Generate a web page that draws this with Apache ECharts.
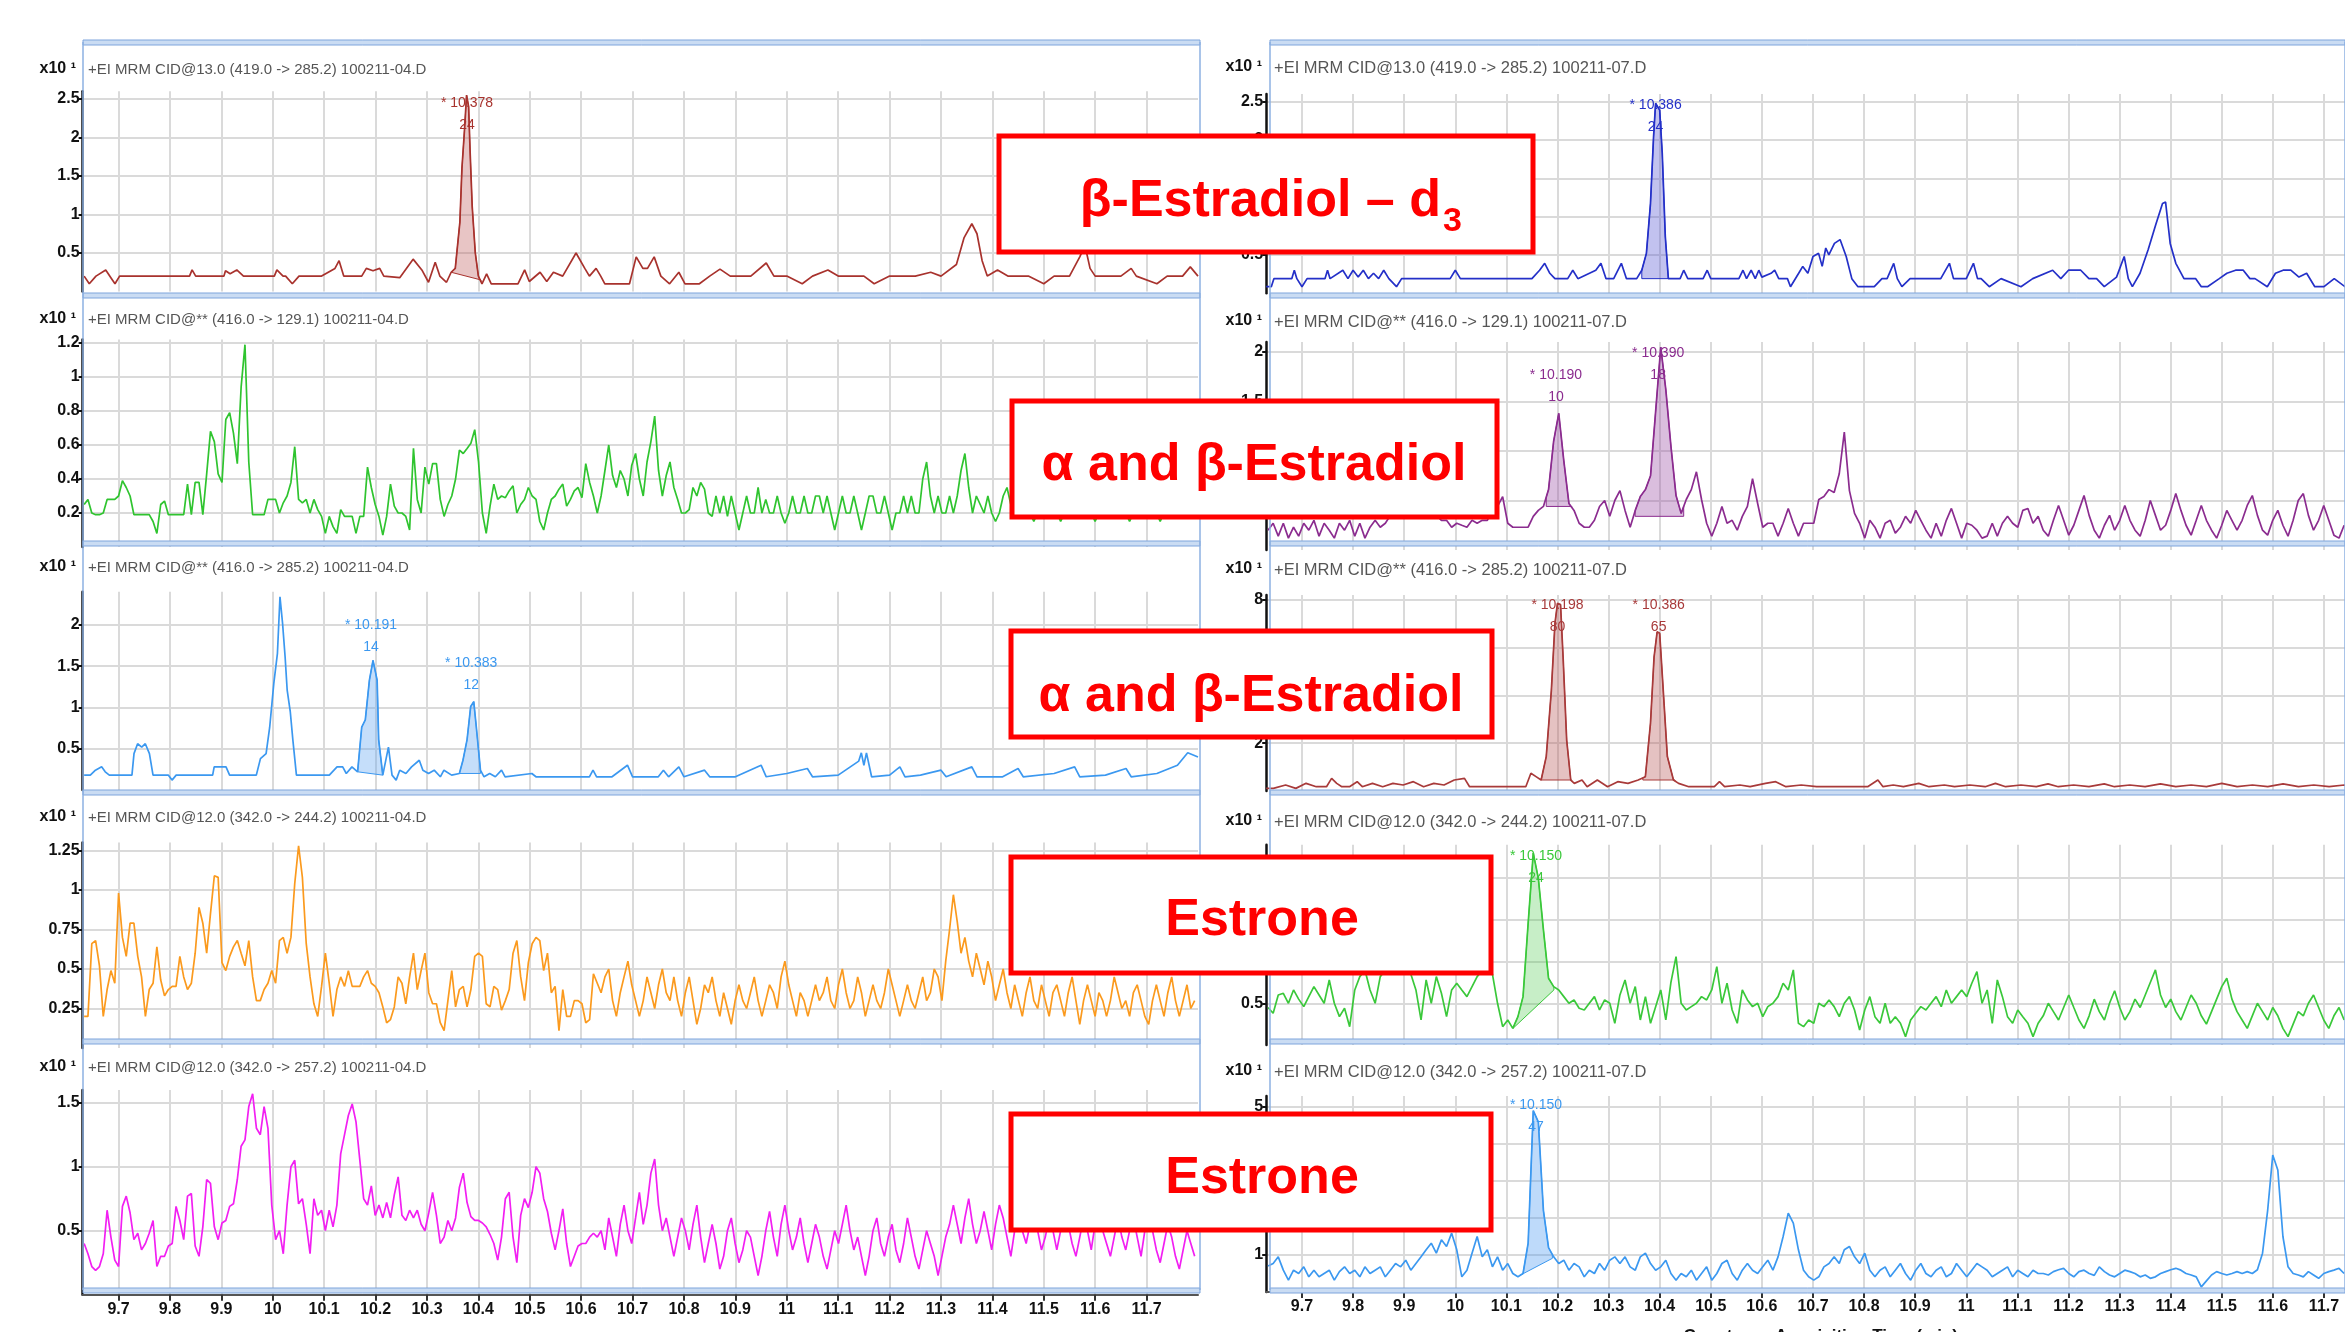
<!DOCTYPE html>
<html><head><meta charset="utf-8">
<script src="https://cdn.jsdelivr.net/npm/echarts@6/dist/echarts.min.js"></script>
<style>html,body{margin:0;padding:0;background:#fff}#c{width:2345px;height:1332px}</style>
</head><body><div id="c"></div>
<script>
// ================= DATA =================
const timeMin = 9.63, timeMax = 11.8, timeStep = 0.1;
const xAxisTitle = 'Counts vs. Acquisition Time (min)';

// uniform sampling of the noisy traces (acquisition time grid)
const L_t0 = 9.633, L_dt = 0.00745;
const R_t0 = 9.6336, R_dt = 0.00998;

const headers = [
  '+EI MRM CID@13.0 (419.0 -> 285.2) 100211-04.D',
  '+EI MRM CID@** (416.0 -> 129.1) 100211-04.D',
  '+EI MRM CID@** (416.0 -> 285.2) 100211-04.D',
  '+EI MRM CID@12.0 (342.0 -> 244.2) 100211-04.D',
  '+EI MRM CID@12.0 (342.0 -> 257.2) 100211-04.D',
  '+EI MRM CID@13.0 (419.0 -> 285.2) 100211-07.D',
  '+EI MRM CID@** (416.0 -> 129.1) 100211-07.D',
  '+EI MRM CID@** (416.0 -> 285.2) 100211-07.D',
  '+EI MRM CID@12.0 (342.0 -> 244.2) 100211-07.D',
  '+EI MRM CID@12.0 (342.0 -> 257.2) 100211-07.D'
];
const scaleLabel = 'x10 \u00b9';

// y axis ranges / tick steps
const yMax  = [2.6, 1.22, 2.4, 1.3, 1.6, 2.6, 2.1, 8.2, 2.4, 5.3];
const yStep = [0.5, 0.2, 0.5, 0.25, 0.5, 0.5, 0.5, 2, 0.5, 1];

const boxLabels = ['β-Estradiol – d', 'α and β-Estradiol', 'α and β-Estradiol', 'Estrone', 'Estrone'];
const boxSub = ['3', '', '', '', ''];

// --- L1 : 419 -> 285.2 (sample 04) [time, counts x10]
const L1_trace = [[9.633,0.2],[9.643,0.1],[9.656,0.2],[9.675,0.28],[9.686,0.17],[9.693,0.1],[9.702,0.2],[9.838,0.2],[9.843,0.28],[9.85,0.2],[9.905,0.2],[9.908,0.27],[9.917,0.23],[9.93,0.28],[9.943,0.2],[10.003,0.2],[10.008,0.28],[10.02,0.2],[10.025,0.2],[10.038,0.1],[10.051,0.2],[10.095,0.2],[10.121,0.3],[10.129,0.4],[10.138,0.2],[10.173,0.2],[10.182,0.3],[10.195,0.27],[10.208,0.3],[10.216,0.2],[10.247,0.18],[10.273,0.42],[10.29,0.28],[10.303,0.12],[10.316,0.38],[10.325,0.2],[10.338,0.12],[10.347,0.25],[10.355,0.3],[10.364,0.9],[10.368,1.6],[10.373,2.1],[10.377,2.55],[10.381,2.4],[10.384,1.8],[10.388,1.1],[10.394,0.5],[10.4,0.2],[10.407,0.1],[10.416,0.23],[10.425,0.1],[10.477,0.1],[10.49,0.28],[10.499,0.13],[10.52,0.25],[10.533,0.13],[10.546,0.25],[10.564,0.2],[10.59,0.5],[10.607,0.3],[10.616,0.2],[10.629,0.3],[10.638,0.2],[10.646,0.1],[10.694,0.1],[10.707,0.45],[10.72,0.3],[10.729,0.3],[10.742,0.45],[10.755,0.2],[10.772,0.1],[10.79,0.25],[10.802,0.1],[10.83,0.1],[10.85,0.2],[10.87,0.29],[10.89,0.2],[10.93,0.2],[10.96,0.37],[10.975,0.2],[11.0,0.2],[11.03,0.1],[11.05,0.2],[11.08,0.28],[11.1,0.2],[11.15,0.2],[11.17,0.1],[11.2,0.2],[11.25,0.2],[11.28,0.25],[11.3,0.2],[11.33,0.35],[11.345,0.7],[11.36,0.88],[11.37,0.75],[11.38,0.4],[11.39,0.2],[11.41,0.28],[11.43,0.2],[11.47,0.2],[11.5,0.1],[11.52,0.2],[11.55,0.2],[11.57,0.45],[11.58,0.6],[11.59,0.3],[11.6,0.2],[11.65,0.2],[11.67,0.3],[11.68,0.2],[11.72,0.1],[11.74,0.2],[11.77,0.2],[11.785,0.32],[11.8,0.2]];

// --- L2 : 416 -> 129.1 (sample 04), uniform grid L_t0/L_dt
const L2_vals = [0.25,0.28,0.2,0.19,0.19,0.2,0.28,0.28,0.28,0.3,
0.39,0.35,0.3,0.19,0.19,0.19,0.19,0.19,0.15,0.08,
0.25,0.27,0.19,0.19,0.19,0.19,0.19,0.37,0.19,0.38,
0.38,0.19,0.43,0.68,0.62,0.43,0.38,0.75,0.79,0.67,
0.49,0.94,1.19,0.5,0.19,0.19,0.19,0.19,0.28,0.28,
0.28,0.2,0.26,0.3,0.38,0.59,0.28,0.26,0.28,0.2,
0.28,0.22,0.18,0.08,0.18,0.12,0.08,0.22,0.18,0.18,
0.18,0.08,0.18,0.18,0.47,0.35,0.25,0.18,0.07,0.18,
0.37,0.24,0.2,0.2,0.18,0.1,0.58,0.28,0.2,0.47,
0.37,0.49,0.49,0.28,0.18,0.25,0.3,0.4,0.57,0.55,
0.58,0.61,0.69,0.5,0.2,0.08,0.24,0.37,0.28,0.3,
0.29,0.33,0.36,0.2,0.25,0.28,0.35,0.3,0.28,0.15,
0.1,0.2,0.28,0.3,0.34,0.37,0.24,0.28,0.33,0.35,
0.29,0.49,0.38,0.3,0.2,
0.3,0.45,0.6,0.42,0.35,0.45,0.4,0.3,0.48,0.55,0.4,0.3,0.5,0.62,0.77,0.45,0.3,0.42,0.5,0.35,
0.28,0.2,0.2,0.22,0.35,0.3,0.38,0.34,0.2,0.18,0.3,0.2,0.3,0.18,0.3,0.2,0.1,0.2,0.3,0.2,
0.2,0.35,0.2,0.28,0.2,0.2,0.3,0.2,0.14,0.2,0.3,0.2,0.2,0.3,0.2,0.2,0.3,0.3,0.2,0.3,
0.2,0.1,0.2,0.3,0.2,0.2,0.3,0.2,0.1,0.2,0.3,0.3,0.2,0.2,0.3,0.2,0.1,0.2,0.2,0.3,
0.2,0.3,0.2,0.2,0.4,0.5,0.3,0.2,0.3,0.2,0.2,0.3,0.2,0.3,0.45,0.55,0.35,0.2,0.3,0.25,
0.2,0.3,0.2,0.15,0.2,0.3,0.35,0.25,0.2,0.3,0.4,0.3,0.2,0.15,0.2,0.3,0.2,0.25,0.3,0.2,
0.15,0.2,0.3,0.2,0.2,0.35,0.45,0.3,0.2,0.15,0.2,0.3,0.25,0.2,0.3,0.4,0.3,0.2,0.15,0.2,
0.3,0.2,0.25,0.35,0.3,0.2,0.15,0.2,0.3,0.25,0.2,0.3,0.35,0.2,0.2,0.25];

// --- L3 : 416 -> 285.2 (sample 04) [time, counts x10]
const L3_trace = [[9.633,0.18],[9.645,0.18],[9.655,0.24],[9.667,0.28],[9.674,0.22],[9.682,0.18],[9.726,0.18],[9.730,0.44],[9.737,0.56],[9.745,0.52],[9.752,0.56],[9.760,0.44],[9.767,0.18],[9.797,0.18],[9.804,0.12],[9.812,0.18],[9.883,0.18],[9.886,0.28],[9.909,0.28],[9.916,0.18],[9.968,0.18],[9.976,0.38],[9.987,0.44],[9.994,0.76],[10.002,1.29],[10.009,1.65],[10.014,2.34],[10.019,2.02],[10.024,1.61],[10.028,1.21],[10.034,0.95],[10.039,0.61],[10.046,0.18],[10.110,0.18],[10.125,0.28],[10.136,0.28],[10.143,0.2],[10.154,0.28],[10.165,0.22],[10.173,0.76],[10.180,0.85],[10.188,1.33],[10.195,1.57],[10.203,1.33],[10.206,0.61],[10.214,0.18],[10.225,0.52],[10.232,0.18],[10.240,0.12],[10.247,0.24],[10.259,0.2],[10.270,0.28],[10.285,0.36],[10.292,0.24],[10.303,0.2],[10.314,0.24],[10.326,0.16],[10.333,0.24],[10.348,0.18],[10.363,0.2],[10.370,0.36],[10.378,0.61],[10.385,1.01],[10.391,1.07],[10.396,0.76],[10.404,0.24],[10.411,0.16],[10.422,0.2],[10.433,0.16],[10.445,0.24],[10.452,0.16],[10.504,0.2],[10.512,0.16],[10.616,0.16],[10.623,0.24],[10.63,0.16],[10.66,0.16],[10.69,0.3],[10.70,0.16],[10.75,0.16],[10.76,0.24],[10.77,0.16],[10.79,0.28],[10.80,0.16],[10.84,0.24],[10.85,0.16],[10.9,0.16],[10.95,0.3],[10.96,0.16],[11.0,0.2],[11.04,0.26],[11.05,0.16],[11.1,0.18],[11.14,0.35],[11.145,0.45],[11.15,0.3],[11.155,0.45],[11.165,0.16],[11.2,0.18],[11.22,0.28],[11.23,0.16],[11.26,0.18],[11.3,0.24],[11.31,0.16],[11.36,0.28],[11.37,0.16],[11.42,0.16],[11.45,0.26],[11.46,0.16],[11.52,0.2],[11.56,0.28],[11.57,0.16],[11.62,0.18],[11.66,0.26],[11.67,0.16],[11.72,0.2],[11.76,0.3],[11.78,0.45],[11.8,0.4]];

// --- L4 : 342 -> 244.2 (sample 04), uniform grid
const L4_vals = [0.2,0.2,0.66,0.68,0.52,0.2,0.37,0.49,0.41,0.98,
0.7,0.58,0.79,0.79,0.58,0.45,0.2,0.37,0.41,0.64,
0.43,0.33,0.37,0.39,0.39,0.58,0.45,0.37,0.41,0.6,
0.89,0.79,0.6,0.85,1.09,1.08,0.54,0.49,0.58,0.64,
0.68,0.6,0.52,0.68,0.45,0.3,0.3,0.37,0.41,0.49,
0.41,0.68,0.7,0.6,0.7,1.04,1.28,1.08,0.66,0.45,
0.28,0.2,0.39,0.6,0.41,0.2,0.37,0.45,0.39,0.49,
0.39,0.39,0.39,0.45,0.49,0.41,0.39,0.35,0.26,0.16,
0.18,0.26,0.45,0.41,0.28,0.45,0.6,0.37,0.49,0.6,
0.35,0.28,0.28,0.16,0.11,0.3,0.49,0.26,0.37,0.39,
0.26,0.37,0.58,0.6,0.58,0.28,0.26,0.39,0.37,0.24,
0.3,0.37,0.6,0.68,0.45,0.3,0.54,0.66,0.7,0.68,
0.49,0.6,0.35,0.39,0.11,0.37,0.2,0.2,0.3,0.3,
0.28,0.16,0.18,0.47,0.41,
0.35,0.45,0.5,0.3,0.2,0.35,0.45,0.55,0.4,0.3,0.2,0.3,0.45,0.35,0.25,0.4,0.5,0.35,0.3,0.45,
0.3,0.2,0.35,0.45,0.3,0.15,0.25,0.4,0.35,0.45,0.3,0.2,0.35,0.25,0.15,0.3,0.4,0.3,0.25,0.35,
0.45,0.3,0.2,0.3,0.4,0.35,0.25,0.45,0.55,0.4,0.3,0.2,0.35,0.3,0.2,0.3,0.4,0.3,0.35,0.45,
0.3,0.25,0.4,0.5,0.35,0.25,0.3,0.45,0.35,0.2,0.3,0.4,0.3,0.25,0.35,0.5,0.4,0.3,0.2,0.3,
0.4,0.3,0.25,0.35,0.45,0.3,0.35,0.5,0.45,0.3,0.55,0.75,0.97,0.8,0.6,0.7,0.55,0.45,0.6,0.5,
0.4,0.55,0.45,0.3,0.4,0.5,0.35,0.25,0.4,0.3,0.2,0.35,0.45,0.3,0.25,0.4,0.3,0.2,0.35,0.4,
0.3,0.2,0.35,0.45,0.3,0.15,0.3,0.4,0.3,0.2,0.35,0.3,0.2,0.3,0.45,0.35,0.25,0.3,0.2,0.35,
0.4,0.3,0.2,0.15,0.3,0.4,0.3,0.2,0.35,0.45,0.3,0.2,0.3,0.4,0.25,0.3];

// --- L5 : 342 -> 257.2 (sample 04), uniform grid
const L5_vals = [0.40,0.32,0.22,0.19,0.22,0.32,0.66,0.45,0.27,0.22,
0.69,0.77,0.64,0.43,0.48,0.35,0.40,0.48,0.58,0.22,
0.30,0.30,0.38,0.40,0.69,0.58,0.43,0.77,0.79,0.38,
0.30,0.53,0.90,0.87,0.53,0.43,0.56,0.58,0.69,0.71,
0.90,1.16,1.21,1.47,1.57,1.30,1.25,1.47,1.30,0.7,
0.43,0.50,0.32,0.70,1.0,1.05,0.71,0.75,0.55,0.32,
0.75,0.62,0.66,0.50,0.66,0.53,0.70,1.1,1.25,1.4,
1.49,1.35,1.05,0.75,0.7,0.85,0.62,0.7,0.6,0.72,
0.6,0.78,0.92,0.62,0.58,0.66,0.6,0.66,0.55,0.5,
0.64,0.8,0.62,0.40,0.45,0.58,0.5,0.6,0.84,0.95,
0.72,0.61,0.58,0.58,0.56,0.53,0.47,0.40,0.27,0.45,
0.75,0.80,0.45,0.25,0.62,0.75,0.68,0.80,1.0,0.95,
0.75,0.65,0.48,0.35,0.5,0.67,0.40,0.22,0.3,0.38,
0.40,0.40,0.45,0.48,0.45,
0.5,0.35,0.6,0.45,0.3,0.55,0.7,0.5,0.4,0.6,0.8,0.55,0.7,0.95,1.06,0.7,0.5,0.6,0.45,0.3,
0.45,0.6,0.5,0.35,0.55,0.7,0.45,0.25,0.4,0.55,0.4,0.2,0.3,0.5,0.6,0.4,0.25,0.35,0.5,0.45,
0.3,0.15,0.3,0.5,0.65,0.45,0.3,0.55,0.7,0.5,0.35,0.45,0.6,0.4,0.25,0.4,0.55,0.45,0.3,0.2,
0.35,0.5,0.4,0.55,0.7,0.5,0.35,0.45,0.3,0.15,0.3,0.5,0.6,0.4,0.3,0.45,0.55,0.35,0.25,0.4,
0.6,0.45,0.3,0.2,0.35,0.5,0.4,0.3,0.15,0.3,0.45,0.55,0.7,0.55,0.4,0.6,0.75,0.55,0.4,0.5,
0.65,0.5,0.35,0.55,0.7,0.6,0.45,0.3,0.5,0.65,0.5,0.4,0.55,0.7,0.5,0.35,0.45,0.6,0.5,0.35,
0.5,0.65,0.55,0.4,0.3,0.45,0.6,0.5,0.35,0.55,0.7,0.5,0.4,0.3,0.45,0.6,0.45,0.35,0.5,0.6,
0.45,0.3,0.5,0.65,0.5,0.35,0.25,0.4,0.55,0.45,0.3,0.2,0.35,0.5,0.4,0.3];

// --- R1 : 419 -> 285.2 (sample 07) [time, counts x10]
const R1_trace = [[9.63,0.085],[9.64,0.085],[9.645,0.19],[9.68,0.19],[9.685,0.3],[9.69,0.19],[9.70,0.085],[9.71,0.19],[9.745,0.19],[9.75,0.3],[9.755,0.19],[9.78,0.3],[9.79,0.19],[9.80,0.3],[9.81,0.21],[9.82,0.3],[9.83,0.19],[9.84,0.26],[9.85,0.19],[9.86,0.3],[9.87,0.19],[9.885,0.085],[9.895,0.19],[9.99,0.19],[10.0,0.3],[10.01,0.19],[10.15,0.19],[10.165,0.3],[10.175,0.39],[10.185,0.26],[10.195,0.19],[10.22,0.19],[10.23,0.3],[10.24,0.19],[10.275,0.3],[10.285,0.39],[10.295,0.19],[10.31,0.19],[10.325,0.39],[10.335,0.19],[10.355,0.19],[10.365,0.3],[10.374,0.52],[10.382,1.17],[10.388,2.04],[10.392,2.48],[10.40,2.39],[10.405,1.83],[10.411,0.74],[10.417,0.19],[10.44,0.19],[10.447,0.3],[10.455,0.19],[10.485,0.19],[10.493,0.3],[10.50,0.19],[10.555,0.19],[10.563,0.3],[10.57,0.19],[10.579,0.3],[10.587,0.19],[10.594,0.3],[10.60,0.21],[10.618,0.26],[10.625,0.3],[10.633,0.19],[10.65,0.19],[10.656,0.085],[10.672,0.26],[10.68,0.35],[10.69,0.26],[10.70,0.48],[10.711,0.52],[10.718,0.35],[10.725,0.59],[10.731,0.5],[10.742,0.65],[10.753,0.70],[10.765,0.48],[10.776,0.19],[10.788,0.085],[10.82,0.085],[10.835,0.19],[10.845,0.19],[10.858,0.39],[10.865,0.19],[10.874,0.085],[10.89,0.19],[10.905,0.19],[10.928,0.19],[10.95,0.19],[10.967,0.39],[10.975,0.19],[10.983,0.19],[11.0,0.19],[11.014,0.39],[11.022,0.19],[11.029,0.19],[11.045,0.085],[11.068,0.19],[11.107,0.085],[11.13,0.19],[11.169,0.3],[11.185,0.19],[11.2,0.3],[11.224,0.3],[11.24,0.19],[11.255,0.19],[11.27,0.085],[11.294,0.21],[11.309,0.48],[11.317,0.19],[11.325,0.085],[11.34,0.26],[11.356,0.57],[11.371,0.9],[11.384,1.17],[11.39,1.19],[11.399,0.65],[11.41,0.39],[11.426,0.19],[11.449,0.19],[11.46,0.085],[11.472,0.085],[11.495,0.19],[11.51,0.26],[11.527,0.3],[11.542,0.3],[11.555,0.19],[11.565,0.19],[11.589,0.085],[11.605,0.26],[11.62,0.3],[11.635,0.3],[11.651,0.21],[11.666,0.26],[11.682,0.085],[11.70,0.085],[11.72,0.19],[11.741,0.085],[11.8,0.085]];

// --- R2 : 416 -> 129.1 (sample 07), uniform grid R_t0/R_dt
const R2_vals = [0.2,
0.27,0.14,0.27,0.12,0.23,0.14,0.27,0.2,0.3,0.14,
0.27,0.2,0.12,0.27,0.2,0.3,0.14,0.27,0.12,0.23,
0.3,0.23,0.27,0.35,0.45,0.5,0.4,0.55,0.45,0.5,
0.4,0.45,0.35,0.3,0.3,0.23,0.27,0.25,0.23,0.3,
0.27,0.3,0.3,0.4,0.44,0.54,0.27,0.23,0.23,0.23,
0.23,0.34,0.4,0.44,0.61,1.1,1.38,0.9,0.47,0.4,
0.27,0.23,0.23,0.3,0.44,0.5,0.34,0.5,0.6,0.4,
0.23,0.4,0.54,0.61,0.75,1.4,2.05,1.62,1.05,0.55,
0.37,0.51,0.61,0.79,0.51,0.27,0.14,0.27,0.44,0.27,
0.3,0.2,0.34,0.44,0.72,0.47,0.23,0.27,0.27,0.14,
0.27,0.42,0.27,0.14,0.27,0.27,0.27,0.51,0.54,0.61,
0.58,0.77,1.19,0.6,0.37,0.27,0.12,0.3,0.23,0.12,
0.27,0.3,0.17,0.23,0.34,0.27,0.4,0.3,0.2,0.12,
0.27,0.14,0.3,0.42,0.27,0.12,0.27,0.25,0.2,0.12,
0.14,0.27,0.14,0.27,0.34,0.27,0.23,0.4,0.42,0.27,
0.34,
0.2,0.14,0.3,0.45,0.3,0.15,0.25,0.4,0.55,0.35,0.2,0.12,0.25,0.35,0.2,0.3,0.45,0.3,0.2,0.14,
0.3,0.5,0.35,0.2,0.25,0.4,0.57,0.4,0.25,0.15,0.3,0.45,0.3,0.2,0.12,0.25,0.4,0.3,0.2,0.3,
0.45,0.55,0.35,0.2,0.15,0.3,0.4,0.25,0.14,0.3,0.5,0.57,0.35,0.2,0.3,0.45,0.3,0.15,0.12,0.25];

// --- R3 : 416 -> 285.2 (sample 07) [time, counts x10]
const R3_trace = [[9.63,0.11],[9.644,0.11],[9.668,0.25],[9.688,0.11],[9.708,0.32],[9.728,0.18],[9.748,0.18],[9.758,0.53],[9.768,0.32],[9.778,0.18],[9.793,0.18],[9.808,0.39],[9.818,0.18],[9.838,0.32],[9.858,0.18],[9.878,0.32],[9.898,0.25],[9.918,0.39],[9.938,0.18],[9.958,0.32],[9.978,0.25],[9.998,0.46],[10.018,0.53],[10.028,0.18],[10.138,0.18],[10.148,0.74],[10.158,0.6],[10.168,0.46],[10.178,1.44],[10.188,4.2],[10.195,7.0],[10.2,7.85],[10.206,7.8],[10.211,5.6],[10.218,2.13],[10.226,0.46],[10.233,0.32],[10.248,0.46],[10.258,0.18],[10.278,0.46],[10.298,0.18],[10.318,0.39],[10.338,0.32],[10.358,0.46],[10.372,0.6],[10.382,2.83],[10.389,5.6],[10.395,6.66],[10.400,6.6],[10.407,4.2],[10.415,1.44],[10.427,0.46],[10.437,0.32],[10.457,0.18],[10.507,0.18],[10.517,0.39],[10.527,0.18],[10.557,0.25],[10.577,0.18],[10.607,0.32],[10.627,0.39],[10.647,0.18],[10.677,0.25],[10.707,0.18],[10.737,0.18],[10.757,0.18],[10.777,0.18],[10.807,0.18],[10.827,0.46],[10.837,0.18],[10.857,0.25],[10.877,0.18],[10.907,0.32],[10.927,0.18],[10.957,0.25],[10.977,0.18],[11.007,0.25],[11.037,0.18],[11.057,0.32],[11.077,0.18],[11.107,0.25],[11.137,0.18],[11.16,0.3],[11.18,0.18],[11.21,0.25],[11.24,0.18],[11.27,0.3],[11.29,0.18],[11.32,0.25],[11.35,0.18],[11.38,0.3],[11.41,0.18],[11.44,0.25],[11.47,0.18],[11.5,0.32],[11.53,0.18],[11.56,0.25],[11.59,0.18],[11.62,0.3],[11.65,0.18],[11.68,0.25],[11.71,0.18],[11.74,0.25],[11.8,0.18]];

// --- R4 : 342 -> 244.2 (sample 07), uniform grid
const R4_vals = [0.45,
0.38,0.6,0.62,0.5,0.66,0.55,0.46,0.58,0.7,0.6,
0.5,0.78,0.5,0.34,0.44,0.22,0.66,0.82,0.9,0.66,
0.5,0.82,0.9,0.95,1.0,0.9,0.95,0.85,0.66,0.3,
0.78,0.5,0.82,0.62,0.34,0.66,0.74,0.66,0.58,0.7,
0.82,0.9,0.95,0.85,0.5,0.22,0.3,0.2,0.34,0.58,
1.46,2.3,2.0,1.38,0.8,0.7,0.66,0.58,0.5,0.54,
0.44,0.42,0.5,0.58,0.42,0.54,0.5,0.26,0.6,0.78,
0.5,0.7,0.3,0.58,0.26,0.46,0.66,0.3,0.75,1.06,
0.5,0.42,0.46,0.5,0.58,0.54,0.66,0.94,0.5,0.74,
0.42,0.26,0.66,0.54,0.46,0.5,0.34,0.46,0.5,0.58,
0.74,0.66,0.9,0.26,0.22,0.3,0.26,0.5,0.46,0.54,
0.46,0.34,0.5,0.58,0.42,0.18,0.42,0.58,0.34,0.26,
0.5,0.26,0.34,0.26,0.1,0.3,0.38,0.46,0.42,0.5,
0.58,0.46,0.66,0.5,0.58,0.66,0.58,0.74,0.88,0.5,
0.66,0.26,0.78,0.58,0.34,0.26,0.42,0.34,0.26,0.1,
0.26,
0.35,0.5,0.4,0.3,0.45,0.6,0.45,0.3,0.2,0.35,0.55,0.4,0.3,0.5,0.65,0.45,0.3,0.4,0.55,0.45,
0.6,0.75,0.9,0.6,0.45,0.55,0.4,0.3,0.45,0.6,0.5,0.35,0.25,0.4,0.55,0.7,0.8,0.55,0.4,0.3,
0.2,0.35,0.5,0.4,0.3,0.45,0.35,0.2,0.1,0.25,0.4,0.35,0.5,0.6,0.45,0.3,0.2,0.35,0.45,0.3];

// --- R5 : 342 -> 257.2 (sample 07), uniform grid
const R5_vals = [0.7,
0.77,0.95,0.59,0.32,0.59,0.5,0.68,0.41,0.59,0.41,
0.5,0.59,0.32,0.55,0.68,0.5,0.59,0.41,0.68,0.5,
0.59,0.68,0.41,0.59,0.77,0.68,0.86,0.59,0.77,0.95,
1.14,1.32,1.05,1.41,1.23,1.59,1.14,0.41,0.59,1.05,
1.5,0.95,1.14,0.68,0.95,0.59,0.77,0.5,0.41,0.5,
1.32,4.9,4.6,2.2,1.2,0.95,0.77,0.86,0.59,0.77,
0.68,0.41,0.59,0.5,0.77,0.59,0.86,0.95,0.77,0.95,
0.68,0.59,0.95,1.05,0.77,0.59,0.68,0.86,0.5,0.32,
0.5,0.41,0.59,0.32,0.5,0.68,0.32,0.5,0.77,0.86,
0.5,0.32,0.59,0.77,0.59,0.5,0.68,0.86,0.59,0.95,
1.5,2.13,1.86,1.14,0.59,0.41,0.32,0.41,0.68,0.77,
0.95,0.77,1.14,1.23,0.95,0.77,1.05,0.59,0.41,0.59,
0.68,0.41,0.59,0.77,0.5,0.32,0.59,0.77,0.5,0.41,
0.59,0.68,0.41,0.5,0.77,0.59,0.41,0.59,0.77,0.68,
0.59,0.41,0.5,0.59,0.68,0.41,0.59,0.5,0.41,0.59,
0.5,
0.5,0.46,0.55,0.6,0.64,0.5,0.41,0.55,0.59,0.5,0.45,0.68,0.55,0.46,0.41,0.5,0.59,0.55,0.5,0.41,
0.46,0.37,0.41,0.5,0.55,0.6,0.64,0.59,0.5,0.46,0.41,0.14,0.3,0.46,0.55,0.5,0.46,0.5,0.55,0.5,
0.55,0.5,0.6,1.05,2.2,3.7,3.3,1.5,0.68,0.5,0.46,0.41,0.55,0.46,0.37,0.5,0.55,0.59,0.64,0.5];

// integrated peaks: [start time, baseline at start, end time, baseline at end]
const L1_peaks = [[10.347,0.25,10.405,0.15]];
const L3_peaks = [[10.165,0.22,10.214,0.18],[10.363,0.2,10.404,0.2]];
const R1_peaks = [[10.365,0.19,10.417,0.19]];
const R2_peaks = [[10.178,0.44,10.228,0.44],[10.352,0.34,10.447,0.34]];
const R3_peaks = [[10.168,0.46,10.228,0.46],[10.367,0.46,10.43,0.46]];
const R4_peaks = [[10.113,0.2,10.193,0.66]];
const R5_peaks = [[10.128,0.46,10.19,0.91]];

// peak annotations: [time, label height, text]
const L1_ann = [[10.378,2.3,'* 10.378\n24']];
const L3_ann = [[10.191,1.86,'* 10.191\n14'],[10.386,1.4,'* 10.383\n12']];
const R1_ann = [[10.392,2.31,'* 10.386\n24']];
const R2_ann = [[10.197,1.66,'* 10.190\n10'],[10.397,1.88,'* 10.390\n18']];
const R3_ann = [[10.200,7.3,'* 10.198\n80'],[10.398,7.3,'* 10.386\n65']];
const R4_ann = [[10.158,2.13,'* 10.150\n24']];
const R5_ann = [[10.158,4.74,'* 10.150\n47']];

// ================= BUILD =================
const uni = (vals, t0, dt) => vals.map((v, i) => [+(t0 + i * dt).toFixed(4), v]);
const traces = [
  L1_trace, uni(L2_vals, L_t0, L_dt), L3_trace, uni(L4_vals, L_t0, L_dt), uni(L5_vals, L_t0, L_dt),
  R1_trace, uni(R2_vals, R_t0, R_dt), R3_trace, uni(R4_vals, R_t0, R_dt), uni(R5_vals, R_t0, R_dt)
];
const peaks = [L1_peaks, [], L3_peaks, [], [], R1_peaks, R2_peaks, R3_peaks, R4_peaks, R5_peaks];
const anns = [L1_ann, [], L3_ann, [], [], R1_ann, R2_ann, R3_ann, R4_ann, R5_ann];

// ---- styling / layout ----
const colors = ['#a8322d','#2fc42f','#3b98f0','#fb9a1e','#f21ff2','#2430c8','#8b2c8f','#a83a3a','#3ac83a','#3b98f0'];
const fills  = ['rgba(190,90,90,0.35)','','rgba(90,160,240,0.35)','','','rgba(80,80,210,0.35)','rgba(150,70,160,0.35)','rgba(180,80,80,0.35)','rgba(70,200,70,0.3)','rgba(70,150,240,0.35)'];
const colL = {left: 82.6, width: 1115.4}, colR = {left: 1266.2, width: 1108.9};
const zeroY = [291.5, 547, 790, 1048, 1294.7, 293.2, 550, 791, 1045, 1292];
const pxPerUnit = [77, 170, 82.6, 158, 128, 76.6, 99, 23.9, 83.4, 37];
const headerY = [70, 320, 568, 818, 1068, 68, 322, 570, 822, 1072];
const bandY = [42, 295, 543, 792, 1041, 1290];
const FONT = '"Liberation Sans Narrow","Liberation Sans",Arial,sans-serif';

function interp(tr, t) {
  for (let i = 1; i < tr.length; i++) {
    if (tr[i][0] >= t) {
      const a = tr[i-1], b = tr[i];
      return a[1] + (b[1]-a[1]) * (t - a[0]) / (b[0] - a[0]);
    }
  }
  return tr[tr.length-1][1];
}

const grids = [], xAxes = [], yAxes = [], series = [], graphics = [];
for (let i = 0; i < 10; i++) {
  const col = i < 5 ? colL : colR;
  const bottomRow = (i === 4 || i === 9);
  const h = yMax[i] * pxPerUnit[i];
  grids.push({left: col.left, width: col.width, top: zeroY[i] - h, height: h,
    outerBoundsMode: 'none', containLabel: false});
  xAxes.push({
    type: 'value', gridIndex: i, min: timeMin, max: timeMax,
    minInterval: timeStep, maxInterval: timeStep, splitNumber: 22,
    axisLine: {show: bottomRow, onZero: false, lineStyle: {color: '#555', width: 2}},
    axisTick: {show: bottomRow, length: 6, lineStyle: {color: '#333', width: 2}},
    axisLabel: {show: bottomRow, showMinLabel: false, showMaxLabel: false, fontFamily: FONT,
      fontSize: 16, fontWeight: 'bold', color: '#111', margin: 7},
    splitLine: {show: true, showMinLine: false, showMaxLine: false, lineStyle: {color: '#dadada', width: 2}},
    name: bottomRow ? xAxisTitle : '', nameLocation: 'middle', nameGap: 36,
    nameTextStyle: {fontFamily: FONT, fontSize: 17, fontWeight: 'bold', color: '#111'}
  });
  yAxes.push({
    type: 'value', gridIndex: i, min: 0, max: yMax[i], interval: yStep[i],
    axisLine: {show: true, lineStyle: {color: '#111', width: 2.5}},
    axisTick: {show: true, length: 4, lineStyle: {color: '#111', width: 2}},
    axisLabel: {showMinLabel: false, showMaxLabel: false, fontFamily: FONT, fontSize: 16,
      fontWeight: 'bold', color: '#111', margin: 3},
    splitLine: {show: true, showMinLine: false, showMaxLine: false, lineStyle: {color: '#dadada', width: 2}}
  });
  const tr = traces[i];
  if (peaks[i].length) {
    series.push({
      type: 'custom', xAxisIndex: i, yAxisIndex: i, silent: true, z: 2,
      data: peaks[i],
      renderItem: (params, api) => {
        const p = peaks[i][params.dataIndex];
        const pts = [api.coord([p[0], interp(tr, p[0])])];
        tr.forEach(d => { if (d[0] > p[0] && d[0] < p[2]) pts.push(api.coord(d)); });
        pts.push(api.coord([p[2], interp(tr, p[2])]));
        pts.push(api.coord([p[2], p[3]]));
        pts.push(api.coord([p[0], p[1]]));
        return {type: 'polygon', shape: {points: pts},
          style: {fill: fills[i], stroke: colors[i], lineWidth: 1}};
      }
    });
  }
  series.push({
    type: 'line', xAxisIndex: i, yAxisIndex: i, data: tr, showSymbol: false, z: 3,
    lineStyle: {color: colors[i], width: 1.7}, itemStyle: {color: colors[i]},
    markPoint: anns[i].length ? {
      symbol: 'circle', symbolSize: 1, itemStyle: {color: 'rgba(0,0,0,0)'},
      label: {show: true, position: 'inside', formatter: p => p.name, color: colors[i],
        fontFamily: FONT, fontSize: 14, lineHeight: 22},
      data: anns[i].map(a => ({coord: [a[0], a[1]], name: a[2]}))
    } : undefined
  });
  // header + scale label
  const left = i < 5;
  graphics.push({type: 'text', z: 60, x: left ? 88 : 1274, y: headerY[i], style: {text: headers[i],
    font: (left ? '15px ' : '16.5px ') + FONT, fill: '#555', textVerticalAlign: 'middle'}});
  graphics.push({type: 'text', z: 60, x: left ? 76 : 1262, y: headerY[i] - 1, style: {text: scaleLabel,
    font: 'bold 16px ' + FONT, fill: '#111', textAlign: 'right', textVerticalAlign: 'middle'}});
}

// panel frames
const frameCols = [[83, 1200], [1270, 2345]];
frameCols.forEach(([x0, x1]) => {
  bandY.forEach(y => graphics.push({type: 'rect', z: 50, shape: {x: x0, y: y - 2, width: x1 - x0, height: 5},
    style: {fill: '#cadcf3', stroke: '#7fa5dc', lineWidth: 1}}));
  graphics.push({type: 'line', z: 50, shape: {x1: x0, y1: bandY[0], x2: x0, y2: bandY[5]},
    style: {stroke: '#8db0e2', lineWidth: 1.5}});
  graphics.push({type: 'line', z: 50, shape: {x1: x1, y1: bandY[0], x2: x1, y2: bandY[5]},
    style: {stroke: '#8db0e2', lineWidth: 1.5}});
});

// red label boxes
const boxGeom = [[999,136,534,116,1441,202,1266], [1012,401,485,116,0,466,1254], [1011,631,481,106,0,697,1251],
                 [1011,857,480,116,0,921,1262], [1011,1114,480,116,0,1179,1262]];
boxGeom.forEach((g, k) => {
  graphics.push({type: 'rect', z: 100, shape: {x: g[0], y: g[1], width: g[2], height: g[3]},
    style: {fill: '#fff', stroke: '#ff0000', lineWidth: 5}});
  if (boxSub[k]) {
    graphics.push({type: 'text', z: 101, x: g[4], y: g[5], style: {text: boxLabels[k],
      font: 'bold 52px "Liberation Sans",Arial,sans-serif', fill: '#ff0000', textAlign: 'right', textVerticalAlign: 'middle'}});
    graphics.push({type: 'text', z: 101, x: g[4] + 2, y: g[5] + 20, style: {text: boxSub[k],
      font: 'bold 34px "Liberation Sans",Arial,sans-serif', fill: '#ff0000', textAlign: 'left', textVerticalAlign: 'middle'}});
  } else {
    graphics.push({type: 'text', z: 101, x: g[6], y: g[5], style: {text: boxLabels[k],
      font: 'bold 52px "Liberation Sans",Arial,sans-serif', fill: '#ff0000', textAlign: 'center', textVerticalAlign: 'middle'}});
  }
});

const chart = echarts.init(document.getElementById('c'), null, {renderer: 'canvas'});
chart.setOption({
  backgroundColor: '#ffffff', animation: false,
  grid: grids, xAxis: xAxes, yAxis: yAxes, series: series, graphic: {elements: graphics}
});
</script></body></html>
